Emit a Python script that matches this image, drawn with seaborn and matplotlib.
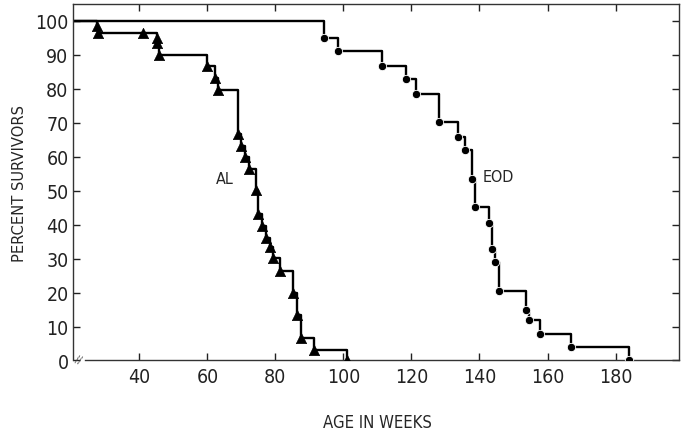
import numpy as np
import pandas as pd
import matplotlib
matplotlib.use("Agg")
import matplotlib.pyplot as plt
import seaborn as sns

# survival data (age in weeks, percent surviving)
al_weeks = [27.5, 27.7, 41.2, 45.1, 45.3, 45.9, 59.8, 62.1, 63.2, 69.1, 69.9, 71.1, 72.3,
            74.3, 75.0, 76.2, 77.3, 78.3, 79.2, 81.2, 85.3, 86.3, 87.5, 91.2, 101.0]
al_surv = [98.5, 96.5, 96.6, 94.9, 93.4, 89.9, 86.6, 83.1, 79.8, 66.8, 63.2, 60.0, 56.5,
           50.1, 43.1, 39.6, 36.2, 33.4, 30.2, 26.3, 19.9, 13.3, 6.7, 3.1, 0.0]

eod_weeks = [94.3, 98.3, 111.3, 118.3, 121.2, 128.0, 133.6, 135.6, 137.8, 138.8, 142.7,
             143.6, 144.6, 145.8, 153.6, 154.6, 157.9, 166.9, 184.0]
eod_surv = [95.1, 91.2, 86.8, 82.9, 78.4, 70.3, 65.9, 62.1, 53.6, 45.2, 40.6,
            32.7, 29.0, 20.4, 15.0, 11.8, 7.9, 3.9, 0.0]

start_week = 20.4
start_surv = 100.0

x_ticks = [40, 60, 80, 100, 120, 140, 160, 180]
y_ticks = [0, 10, 20, 30, 40, 50, 60, 70, 80, 90, 100]

sns.set_theme(style="white")
plt.rcParams["font.family"] = ["DejaVu Sans"]
plt.rcParams["font.stretch"] = "condensed"

al = pd.DataFrame({"week": [start_week] + al_weeks, "surv": [start_surv] + al_surv})
eod = pd.DataFrame({"week": [start_week] + eod_weeks, "surv": [start_surv] + eod_surv})

fig = plt.figure(figsize=(6.86, 4.35), dpi=100)
ax = fig.add_axes([0.106, 0.169, 0.884, 0.8195])

# step lines
sns.lineplot(data=eod, x="week", y="surv", drawstyle="steps-post", color="black",
             linewidth=1.7, estimator=None, sort=False, ax=ax)
sns.lineplot(data=al, x="week", y="surv", drawstyle="steps-post", color="black",
             linewidth=1.7, estimator=None, sort=False, ax=ax)

# markers
ax.scatter(eod_weeks, eod_surv, marker="o", s=36, color="black",
           edgecolor="white", linewidth=0.6, zorder=3)
ax.scatter(al_weeks, al_surv, marker="^", s=55, color="black",
           edgecolor="black", linewidth=0.5, zorder=3)

ax.text(65.1, 53.6, "AL", fontsize=11.5, ha="center", va="center")
ax.text(145.6, 54.1, "EOD", fontsize=11.5, ha="center", va="center")

ax.set_xlim(start_week, 198.7)
ax.set_ylim(0, 105)
ax.set_xticks(x_ticks)
ax.set_yticks(y_ticks)
ax.tick_params(direction="in", length=5, width=1, colors="#222222",
               labelsize=14, top=True, right=True, bottom=True, left=True)
ax.tick_params(axis="x", pad=5)
ax.tick_params(axis="y", pad=3)
ax.tick_params(labeltop=False, labelright=False)

for sp in ax.spines.values():
    sp.set_color("#333333")
    sp.set_linewidth(1.0)
ax.spines["bottom"].set_bounds(24, 198.7)

# axis break mark near origin
ax.text(22.0, 0.3, "//", fontsize=7, ha="center", va="center", color="#444444",
        rotation=-20, clip_on=False)

ax.set_xlabel("AGE IN WEEKS", fontsize=12)
ax.set_ylabel("PERCENT SURVIVORS", fontsize=11.8)
ax.xaxis.set_label_coords(0.502, -0.172)
ax.yaxis.set_label_coords(-0.087, 0.5)
ax.xaxis.label.set_va("center")
ax.yaxis.label.set_va("center")

fig.savefig("out.png", dpi=100)
